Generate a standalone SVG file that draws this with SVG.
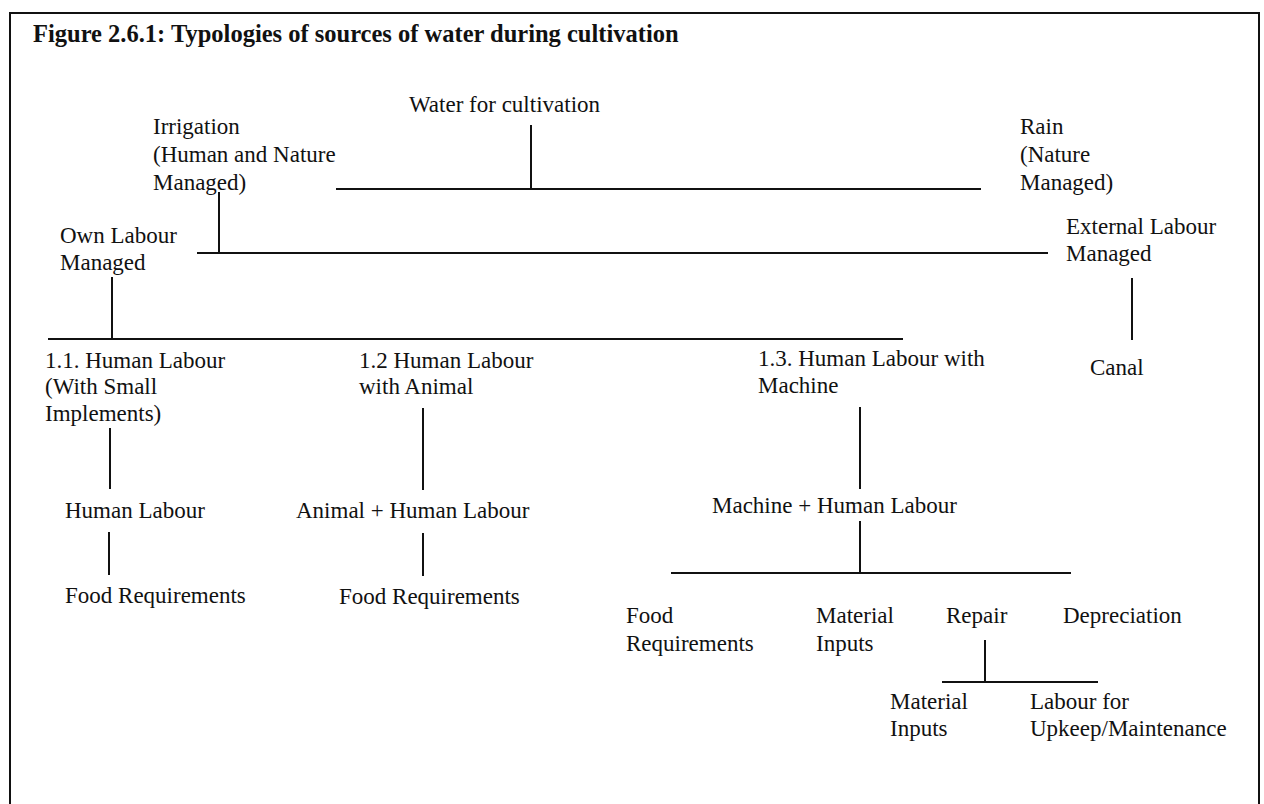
<svg xmlns="http://www.w3.org/2000/svg" width="1264" height="804" viewBox="0 0 1264 804">
<style>
  text { font-family: "Liberation Serif", "Times New Roman", serif; font-size: 23px; fill: #111; }
  .title { font-weight: bold; font-size: 24.5px; }
  .c { stroke: #111; stroke-width: 2; fill: none; }
  .frame { stroke: #111; stroke-width: 2; fill: none; }
</style>
<rect width="1264" height="804" fill="#fff"/>
<path class="frame" d="M10,806 V13 H1259 V806"/>
<text class="title" x="33" y="42">Figure 2.6.1: Typologies of sources of water during cultivation</text>
<g id="connectors">
  <path class="c" d="M531,125 V189 M336,189 H981"/>
  <path class="c" d="M219,192 V253 M197,253 H1048"/>
  <path class="c" d="M1132,278 V340"/>
  <path class="c" d="M112,277 V339 M48,339 H903"/>
  <path class="c" d="M110,428 V489 M109,532 V575"/>
  <path class="c" d="M423,408 V490 M423,533 V576"/>
  <path class="c" d="M860,407 V489 M860,521 V573 M671,573 H1071"/>
  <path class="c" d="M985,640 V682 M942,682 H1098"/>
</g>
<g id="n-water"><text x="409" y="112">Water for cultivation</text></g>
<g id="n-irrigation"><text x="153" y="134">Irrigation</text><text x="153" y="162">(Human and Nature</text><text x="153" y="190">Managed)</text></g>
<g id="n-rain"><text x="1020" y="134">Rain</text><text x="1020" y="162">(Nature</text><text x="1020" y="190">Managed)</text></g>
<g id="n-own"><text x="60" y="243">Own Labour</text><text x="60" y="270">Managed</text></g>
<g id="n-external"><text x="1066" y="234">External Labour</text><text x="1066" y="261">Managed</text></g>
<g id="n-canal"><text x="1090" y="375">Canal</text></g>
<g id="n-1-1"><text x="45" y="368">1.1. Human Labour</text><text x="45" y="394">(With Small</text><text x="45" y="421">Implements)</text></g>
<g id="n-1-2"><text x="359" y="368">1.2 Human Labour</text><text x="359" y="394">with Animal</text></g>
<g id="n-1-3"><text x="758" y="366">1.3. Human Labour with</text><text x="758" y="393">Machine</text></g>
<g id="n-human"><text x="65" y="518">Human Labour</text></g>
<g id="n-animal"><text x="296" y="518">Animal + Human Labour</text></g>
<g id="n-machine"><text x="712" y="513">Machine + Human Labour</text></g>
<g id="n-food1"><text x="65" y="603">Food Requirements</text></g>
<g id="n-food2"><text x="339" y="604">Food Requirements</text></g>
<g id="n-food3"><text x="626" y="623">Food</text><text x="626" y="651">Requirements</text></g>
<g id="n-material1"><text x="816" y="623">Material</text><text x="816" y="651">Inputs</text></g>
<g id="n-repair"><text x="946" y="623">Repair</text></g>
<g id="n-depreciation"><text x="1063" y="623">Depreciation</text></g>
<g id="n-material2"><text x="890" y="709">Material</text><text x="890" y="736">Inputs</text></g>
<g id="n-labour"><text x="1030" y="709">Labour for</text><text x="1030" y="736">Upkeep/Maintenance</text></g>
</svg>
